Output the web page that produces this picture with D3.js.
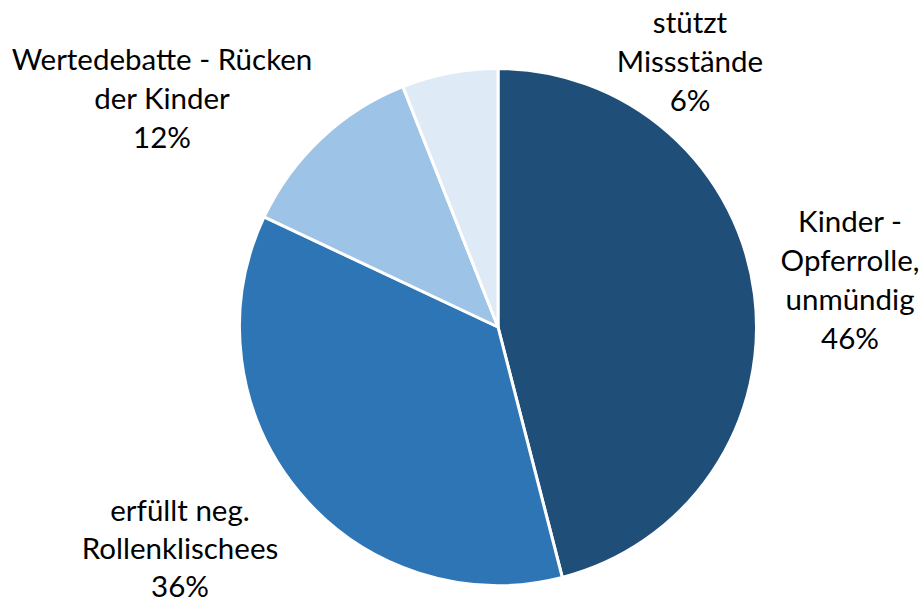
<!DOCTYPE html>
<html>
<head>
<meta charset="utf-8">
<script src="https://cdn.jsdelivr.net/npm/d3@7"></script>
<style>
  html, body { margin: 0; padding: 0; background: #fff; }
  svg { display: block; }
  text { font-family: Lato, "Open Sans", sans-serif; fill: #000; }
</style>
</head>
<body>
<svg id="chart" width="922" height="605"></svg>
<script>
// Survey shares, clockwise from 12 o'clock
const categories = [
  ["Kinder -", "Opferrolle,", "unmündig"],
  ["erfüllt neg.", "Rollenklischees"],
  ["Wertedebatte - Rücken", "der Kinder"],
  ["stützt", "Missstände"]
];
const values = [46, 36, 12, 6];
const colors = ["#1F4E79", "#2E75B6", "#9DC3E6", "#DEEBF7"];

// Label block placement (centre x, first baseline y)
const labelAnchors = [[850, 232], [180, 521], [162, 70], [690, 33]];

const width = 922, height = 605;
const cx = 498, cy = 327, radius = 258.5;
const lineStep = 39;
const fontSize = 29.5;

const svg = d3.select("#chart");
const g = svg.append("g").attr("transform", `translate(${cx},${cy})`);

const pie = d3.pie().sort(null).value(d => d);
const arc = d3.arc().innerRadius(0).outerRadius(radius);
const arcs = pie(values);

g.selectAll("path.slice")
  .data(arcs)
  .join("path")
  .attr("class", "slice")
  .attr("d", arc)
  .attr("fill", (d, i) => colors[i])
  .attr("stroke", "#fff")
  .attr("stroke-width", 3)
  .attr("stroke-linejoin", "round");

const fmt = d3.format(".0%");
const labels = svg.selectAll("text.label")
  .data(arcs)
  .join("text")
  .attr("class", "label")
  .attr("text-anchor", "middle")
  .attr("font-size", fontSize)
  .attr("transform", (d, i) => `translate(${labelAnchors[i][0]},${labelAnchors[i][1]})`);

labels.each(function(d, i) {
  const lines = categories[i].concat([fmt(d.data / 100)]);
  const step = i === 1 ? 38 : lineStep;
  d3.select(this).selectAll("tspan")
    .data(lines)
    .join("tspan")
    .attr("x", 0)
    .attr("y", (t, j) => j * step)
    .text(t => t);
});
</script>
</body>
</html>
